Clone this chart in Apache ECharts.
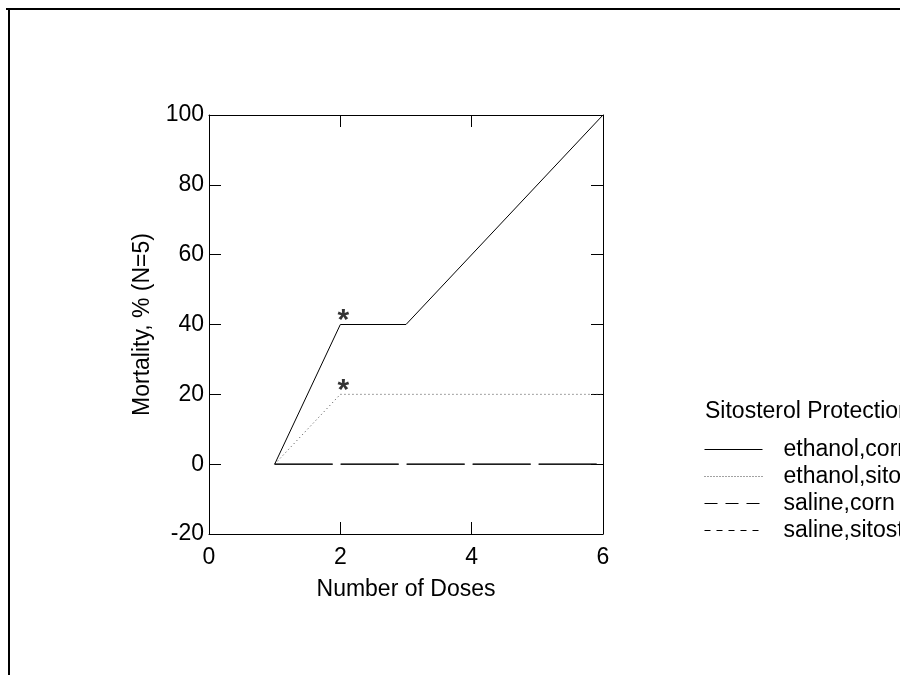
<!DOCTYPE html>
<html><head><meta charset="utf-8">
<script src="https://cdn.jsdelivr.net/npm/echarts@6/dist/echarts.min.js"></script>
<style>html,body{margin:0;padding:0;background:#fff}#c{width:900px;height:675px}</style>
</head><body><div id="c"></div>
<script>
const seriesNames = ['ethanol,corn oil', 'ethanol,sitosterol', 'saline,corn oil', 'saline,sitosterol'];
const ethanolCorn = [[1, 0], [2, 40], [3, 40], [6, 100]];
const ethanolSito = [[1, 0], [2, 20], [6, 20]];
const salineCorn = [[1, 0], [6, 0]];
const salineSito = [[1, 0], [6, 0]];
const starPoints = [[2, 40], [2, 20]];
const xTicks = { min: 0, max: 6, interval: 2 };
const yTicks = { min: -20, max: 100, interval: 20 };

const chart = echarts.init(document.getElementById('c'));
const font = 'Liberation Sans, Arial, sans-serif';
const fs = 23;
const axisCommon = {
  axisLine: { show: true, onZero: false, lineStyle: { color: '#000', width: 1 } },
  axisTick: { show: true, inside: true, length: 12, lineStyle: { color: '#000' } },
  splitLine: { show: false }
};
chart.setOption({
  animation: false,
  backgroundColor: '#fff',
  grid: { left: 209, top: 115, width: 394, height: 419 },
  title: { text: 'Sitosterol Protection', left: 705, top: 400, padding: 0, textStyle: { fontFamily: font, fontSize: fs, fontWeight: 'normal', color: '#000' } },
  legend: {
    left: 704, top: 438, orient: 'vertical', itemWidth: 58, itemHeight: 10, itemGap: 4, align: 'left', padding: 0,
    itemStyle: { opacity: 0 },
    textStyle: { fontFamily: font, fontSize: fs, color: '#000', padding: [0, 0, 0, 16] },
    data: [
      { name: seriesNames[0], lineStyle: { type: 'solid', color: '#000', width: 1 } },
      { name: seriesNames[1], lineStyle: { type: [1, 2], color: '#444', width: 1 } },
      { name: seriesNames[2], lineStyle: { type: [13, 8], color: '#000', width: 1 } },
      { name: seriesNames[3], lineStyle: { type: [6, 6], color: '#000', width: 1 } }
    ]
  },
  xAxis: [
    Object.assign({ type: 'value', position: 'bottom', min: xTicks.min, max: xTicks.max, interval: xTicks.interval,
      name: 'Number of Doses', nameLocation: 'middle', nameGap: 44,
      nameTextStyle: { fontFamily: font, fontSize: fs, color: '#000' },
      axisLabel: { fontFamily: font, fontSize: fs, color: '#000', margin: 12 } }, axisCommon),
    Object.assign({ type: 'value', position: 'top', min: xTicks.min, max: xTicks.max, interval: xTicks.interval,
      axisLabel: { show: false } }, axisCommon)
  ],
  yAxis: [
    Object.assign({ type: 'value', position: 'left', min: yTicks.min, max: yTicks.max, interval: yTicks.interval,
      name: 'Mortality, % (N=5)', nameLocation: 'middle', nameGap: 55,
      nameTextStyle: { fontFamily: font, fontSize: fs, color: '#000' },
      axisLabel: { fontFamily: font, fontSize: fs, color: '#000', margin: 5 } }, axisCommon),
    Object.assign({ type: 'value', position: 'right', min: yTicks.min, max: yTicks.max, interval: yTicks.interval,
      axisLabel: { show: false } }, axisCommon)
  ],
  series: [
    { name: seriesNames[0], type: 'line', data: ethanolCorn, showSymbol: false, symbol: 'none', z: 5,
      lineStyle: { color: '#000', width: 1, type: 'solid' }, itemStyle: { color: '#000' } },
    { name: seriesNames[1], type: 'line', data: ethanolSito, showSymbol: false, symbol: 'none', z: 4,
      lineStyle: { color: '#444', width: 1, type: [1, 3] }, itemStyle: { color: '#444' } },
    { name: seriesNames[2], type: 'line', data: salineCorn, showSymbol: false, symbol: 'none', z: 3,
      lineStyle: { color: '#000', width: 1, type: [58, 8] }, itemStyle: { color: '#000' } },
    { name: seriesNames[3], type: 'line', data: salineSito, showSymbol: false, symbol: 'none', z: 2,
      lineStyle: { color: '#000', width: 1, type: [58, 8] }, itemStyle: { color: '#000' } },
    { name: 'significance', type: 'scatter', data: starPoints, symbolSize: 0, z: 6, silent: true,
      label: { show: true, formatter: '*', position: 'top', distance: -11, offset: [3, 0], fontSize: 30, fontWeight: 'bold', color: '#000', fontFamily: font } }
  ],
  graphic: [
    { type: 'line', shape: { x1: 6, y1: 9, x2: 900, y2: 9 }, style: { stroke: '#000', lineWidth: 2 } },
    { type: 'line', shape: { x1: 9, y1: 8, x2: 9, y2: 675 }, style: { stroke: '#000', lineWidth: 2 } }
  ]
});
</script></body></html>
